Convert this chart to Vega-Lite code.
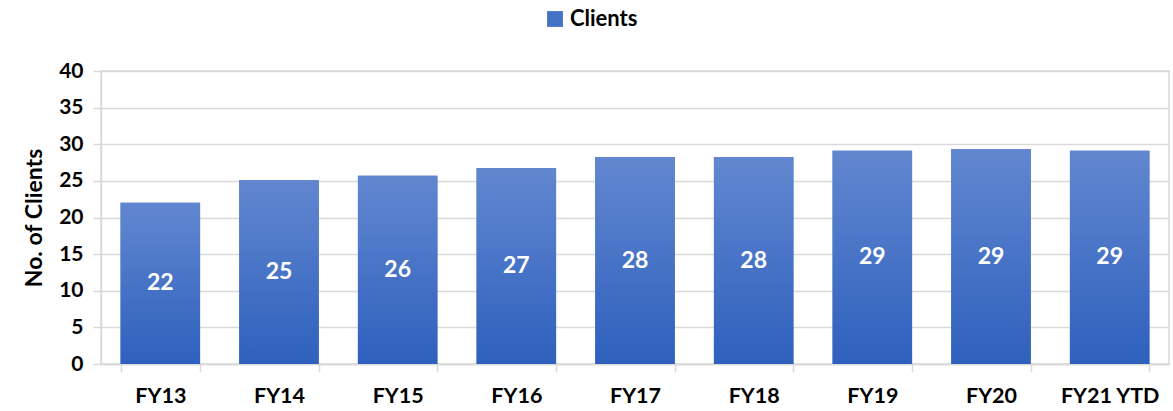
{
  "$schema": "https://vega.github.io/schema/vega-lite/v6.json",
  "width": 1173,
  "height": 411,
  "autosize": {"type": "fit", "contains": "padding"},
  "padding": {"left": 23, "right": 4, "top": 60, "bottom": 4},
  "config": {
    "font": "Lato",
    "view": {"stroke": "#d9d9d9", "strokeWidth": 1.5},
    "axis": {"labelFont": "Lato", "titleFont": "Lato", "labelFontWeight": "bold", "titleFontWeight": "bold", "labelColor": "#000", "titleColor": "#000"}
  },
  "data": {
    "values": [
      {"year": "FY13", "clients": 22.0, "label": "22", "series": "Clients"},
      {"year": "FY14", "clients": 25.1, "label": "25", "series": "Clients"},
      {"year": "FY15", "clients": 25.7, "label": "26", "series": "Clients"},
      {"year": "FY16", "clients": 26.75, "label": "27", "series": "Clients"},
      {"year": "FY17", "clients": 28.25, "label": "28", "series": "Clients"},
      {"year": "FY18", "clients": 28.25, "label": "28", "series": "Clients"},
      {"year": "FY19", "clients": 29.1, "label": "29", "series": "Clients"},
      {"year": "FY20", "clients": 29.35, "label": "29", "series": "Clients"},
      {"year": "FY21 YTD", "clients": 29.1, "label": "29", "series": "Clients"}
    ]
  },
  "encoding": {
    "x": {
      "field": "year", "type": "nominal", "sort": null,
      "scale": {"paddingInner": 0.33, "paddingOuter": 0.165},
      "axis": {"title": null, "labelAngle": 0, "labelFontSize": 21.5, "labelPadding": 13, "tickBand": "extent", "tickSize": 8, "tickColor": "#d9d9d9", "tickWidth": 1.5, "domainColor": "#d9d9d9", "domainWidth": 1.5, "grid": false}
    },
    "y": {
      "field": "clients", "type": "quantitative",
      "scale": {"domain": [0, 40]},
      "axis": {"title": "No. of Clients", "titleFontSize": 23, "titlePadding": 12, "labelFontSize": 21, "labelPadding": 10, "values": [0, 5, 10, 15, 20, 25, 30, 35, 40], "labelOverlap": false, "tickSize": 8, "tickColor": "#d9d9d9", "tickWidth": 1.5, "domainColor": "#d9d9d9", "domainWidth": 1.5, "gridColor": "#d9d9d9", "gridWidth": 1.5}
    }
  },
  "layer": [
    {
      "mark": {"type": "bar"},
      "encoding": {
        "color": {
          "field": "series", "type": "nominal",
          "scale": {"range": ["#4472c4"]},
          "legend": {"title": null, "orient": "none", "legendX": 443, "legendY": -63, "direction": "horizontal", "symbolType": "square", "symbolSize": 250, "symbolStrokeWidth": 0, "labelFontSize": 22, "labelFontWeight": "bold", "labelFont": "Lato", "labelColor": "#000", "padding": 0}
        }
      }
    },
    {
      "mark": {
        "type": "bar",
        "fill": {"gradient": "linear", "x1": 0, "y1": 0, "x2": 0, "y2": 1, "stops": [{"offset": 0, "color": "#6287d0"}, {"offset": 1, "color": "#2e60bd"}]}
      }
    },
    {
      "transform": [{"calculate": "datum.clients / 2", "as": "mid"}],
      "mark": {"type": "text", "color": "white", "fontSize": 23, "fontWeight": "bold", "font": "Lato", "baseline": "middle"},
      "encoding": {
        "y": {"field": "mid", "type": "quantitative"},
        "text": {"field": "label"}
      }
    }
  ]
}
